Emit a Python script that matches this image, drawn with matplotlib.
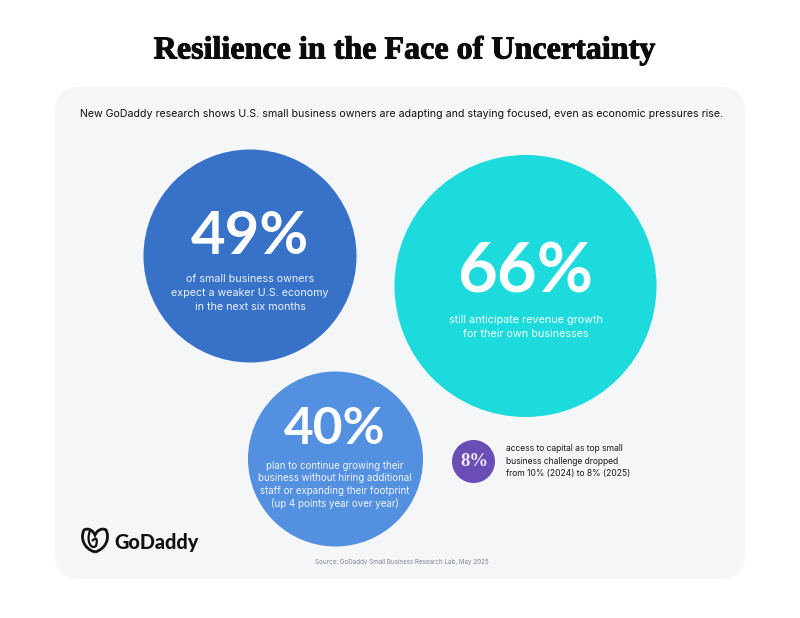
import matplotlib
matplotlib.use("Agg")
import matplotlib.pyplot as plt
import matplotlib.patheffects as pe
from matplotlib.patches import Circle, FancyBboxPatch
from matplotlib.path import Path
from matplotlib.patches import PathPatch

title = "Resilience in the Face of Uncertainty"
subtitle = ("New GoDaddy research shows U.S. small business owners are adapting "
            "and staying focused, even as economic pressures rise.")
source = "Source: GoDaddy Small Business Research Lab, May 2025"

percents = ["49%", "66%", "40%", "8%"]
blurbs = [
    "of small business owners\nexpect a weaker U.S. economy\nin the next six months",
    "still anticipate revenue growth\nfor their own businesses",
    "plan to continue growing their\nbusiness without hiring additional\nstaff or expanding their footprint\n(up 4 points year over year)",
    "access to capital as top small\nbusiness challenge dropped\nfrom 10% (2024) to 8% (2025)",
]

# everything is laid out in image pixels
fig = plt.figure(figsize=(8, 6.18), dpi=100, facecolor="white")
ax = fig.add_axes([0, 0, 1, 1])
ax.set_xlim(0, 800)
ax.set_ylim(618, 0)
ax.axis("off")

panel = FancyBboxPatch((55 + 24, 87 + 24), 690 - 48, 492 - 48,
                       boxstyle="round,pad=24,rounding_size=24",
                       fc="#F5F6F8", ec="none")
ax.add_patch(panel)

ax.text(405, 51, title, family="Liberation Serif", weight="bold", fontsize=23.1,
        ha="center", va="center", color="#0B0B0B",
        path_effects=[pe.withStroke(linewidth=0.7, foreground="#0B0B0B")])
ax.text(402, 114, subtitle, family="Inter", fontsize=7.65, ha="center", va="center",
        color="#111111")

ax.add_patch(Circle((250, 256), 106.5, fc="#3772C8", ec="none"))
ax.add_patch(Circle((525.5, 286), 131, fc="#1DDBDC", ec="none"))
ax.add_patch(Circle((335.5, 459), 87.5, fc="#5490E0", ec="none"))
ax.add_patch(Circle((473.5, 461.5), 21.5, fc="#6A4DB5", ec="none"))

ax.text(250, 237, percents[0], family="Lato", weight="bold", fontsize=43, ha="center",
        va="center", color="white")
ax.text(250, 293, blurbs[0], family="Inter", fontsize=7.7, ha="center", va="center",
        color="#EAF2FB", linespacing=1.5)

ax.text(525, 273, percents[1], family="Lato", weight="bold", fontsize=49.5, ha="center",
        va="center", color="white")
ax.text(526, 327, blurbs[1], family="Inter", fontsize=7.8, ha="center", va="center",
        color="#F2FDFD", linespacing=1.6)

ax.text(335, 429, percents[2], family="Lato", weight="bold", fontsize=37, ha="center",
        va="center", color="white")
ax.text(335, 485, blurbs[2], family="Inter", fontsize=7.0, ha="center", va="center",
        color="#F0F5FD", linespacing=1.3)

ax.text(474, 461, percents[3], family="Liberation Serif", weight="bold", fontsize=13.5,
        ha="center", va="center", color="#F0ECF9")
ax.text(506, 461, blurbs[3], family="Inter", fontsize=6.15, ha="left", va="center",
        color="#1A1A1A", linespacing=1.5)

ax.text(402, 562, source, family="Inter", fontsize=4.5, ha="center", va="center",
        color="#7F858C")

# GoDaddy logo, rough heart outline with inner swoosh
heart = Path(
    [(95, 552), (84, 549), (80, 538), (84, 530), (89, 527), (94, 532), (95, 535),
     (96, 532), (101, 527), (106, 530), (110, 538), (106, 549), (95, 552)],
    [Path.MOVETO, Path.CURVE4, Path.CURVE4, Path.CURVE4, Path.CURVE4, Path.CURVE4, Path.CURVE4,
     Path.CURVE4, Path.CURVE4, Path.CURVE4, Path.CURVE4, Path.CURVE4, Path.CURVE4],
)
ax.add_patch(PathPatch(heart, fc="none", ec="#111111", lw=2))
swoosh = Path([(90, 531), (86, 541), (91, 550), (96, 546), (98, 538), (96, 537), (92, 541)],
              [Path.MOVETO, Path.CURVE4, Path.CURVE4, Path.CURVE4, Path.CURVE4, Path.CURVE4, Path.CURVE4])
ax.add_patch(PathPatch(swoosh, fc="none", ec="#111111", lw=1.6))
ax.text(114, 543, "GoDaddy", family="Lato", weight="black", fontsize=14.3, ha="left",
        va="center", color="#111111")

plt.savefig("out.png", dpi=100)
